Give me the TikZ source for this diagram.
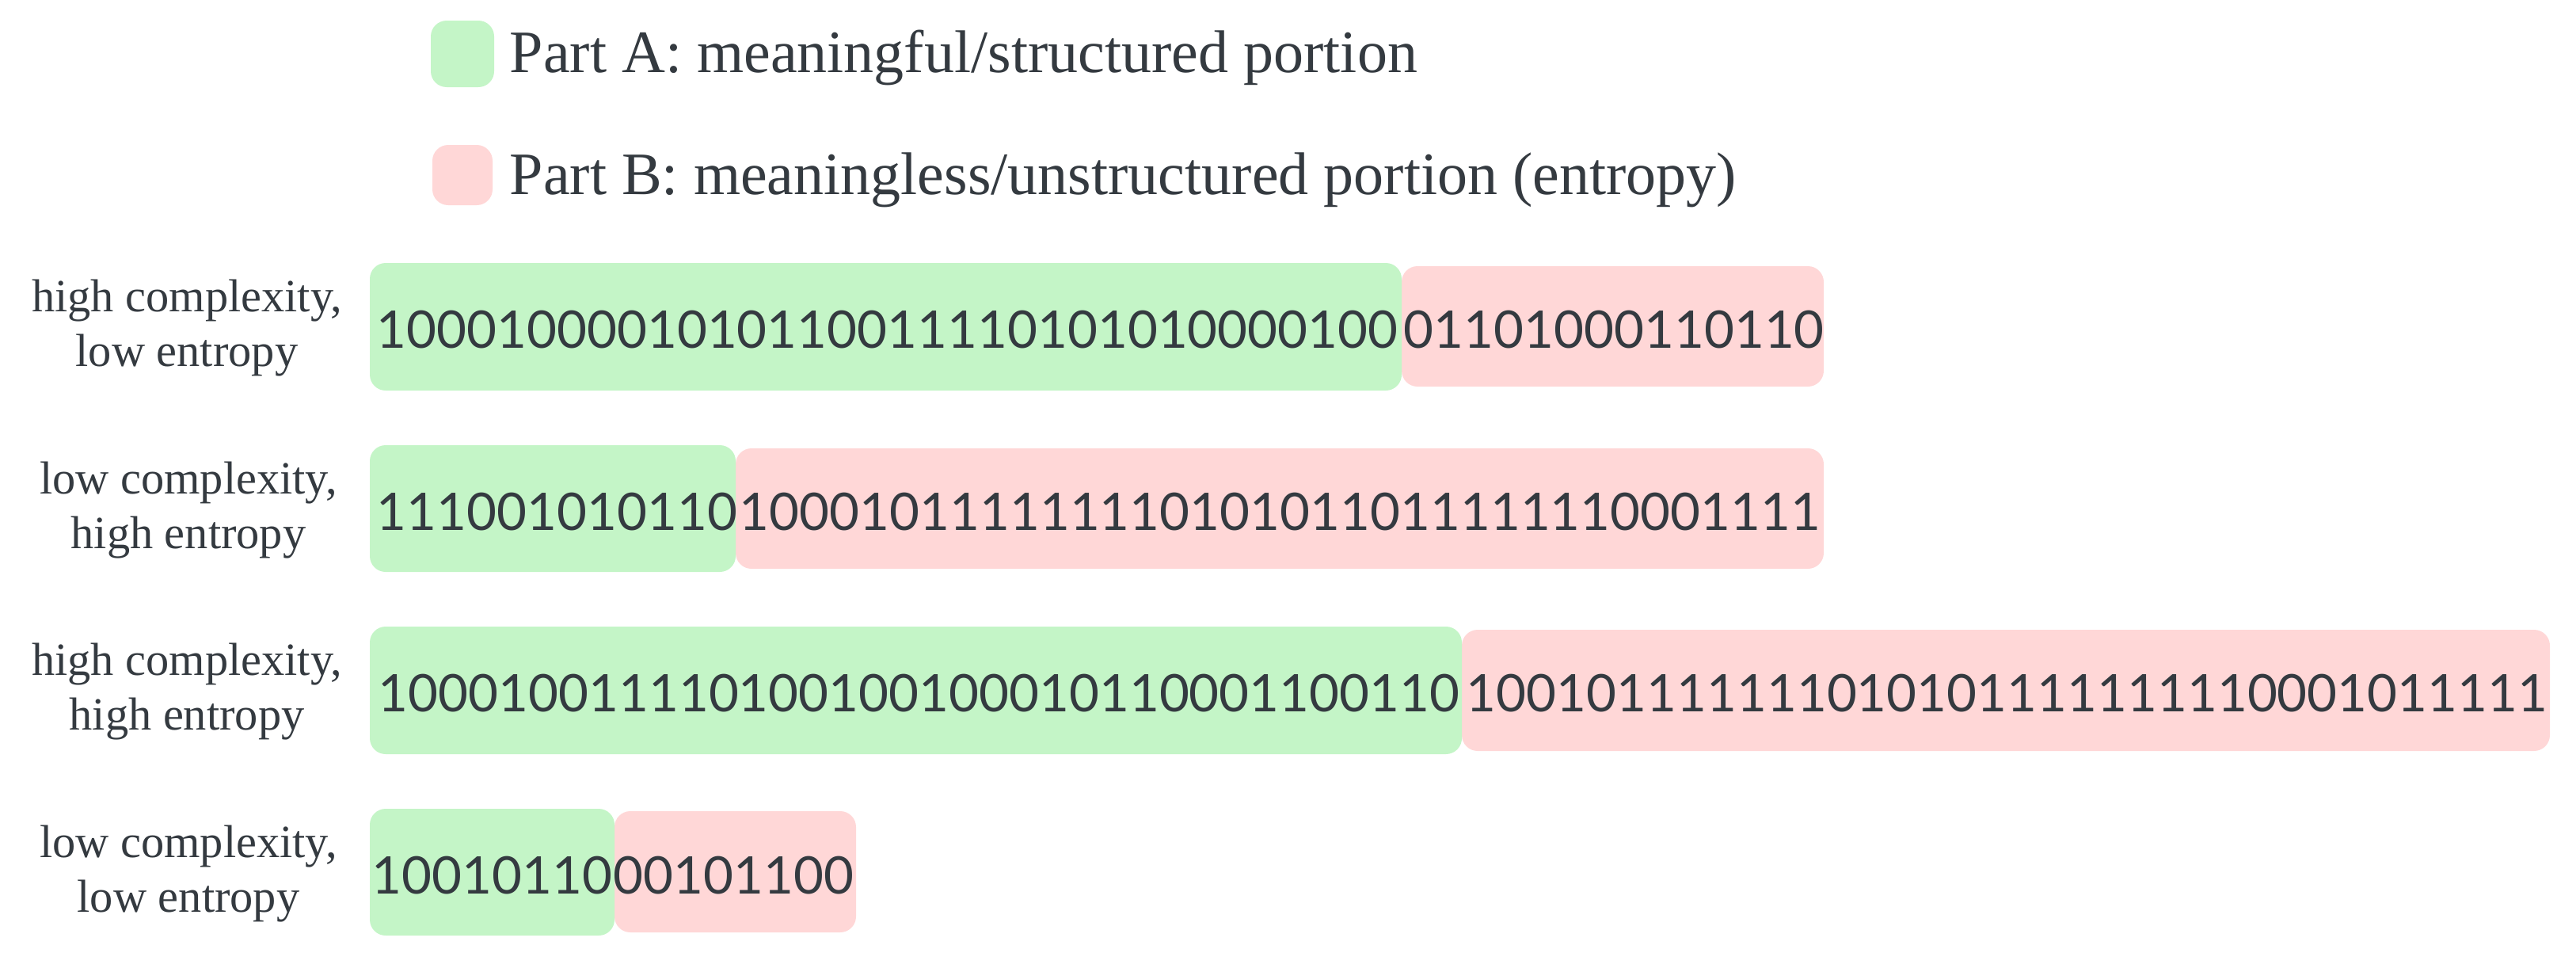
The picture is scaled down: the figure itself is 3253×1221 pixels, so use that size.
\documentclass[tikz,border=0pt]{standalone}
\usepackage{fontspec}
\setmainfont{Liberation Serif}
\newfontfamily\digitfont{Lato}
\definecolor{partA}{RGB}{196,245,199}
\definecolor{partB}{RGB}{255,215,215}
\definecolor{ink}{RGB}{52,58,64}
\begin{document}
\begin{tikzpicture}[x=0.25pt,y=-0.25pt,
  abox/.style={fill=partA, rounded corners=5pt},
  bbox/.style={fill=partB, rounded corners=5pt},
  bits/.style={font=\digitfont\fontsize{16.35pt}{19pt}\selectfont, text=ink, inner sep=0pt, anchor=west},
  rowlabel/.style={font=\fontsize{14.6pt}{17.3pt}\selectfont, text=ink, align=center, inner sep=0pt},
  legend/.style={font=\fontsize{19pt}{23pt}\selectfont, text=ink, inner sep=0pt, anchor=base west}]
\useasboundingbox (0,0) rectangle (3253,1221);
% legend
\fill[abox] (544,26) rectangle (624,110);
\node[legend] (legA) at (643,92) {Part A: meaningful/structured portion};
\fill[bbox] (546,183) rectangle (622,259);
\node[legend] (legB) at (643,245) {Part B: meaningless/unstructured portion (entropy)};
% row 1
\fill[bbox] (1770,336) rectangle (2303,488);
\fill[abox] (467,332) rectangle (1770,493);
\node[bits] (a1) at (475,416) {1000100001010110011110101010000100};
\node[bits] (b1) at (1772,416) {01101000110110};
\node[rowlabel] (l1) at (236,414) {high complexity,\\low entropy};
% row 2
\fill[bbox] (929,566) rectangle (2303,718);
\fill[abox] (467,562) rectangle (929,722);
\node[bits] (a2) at (475,646) {111001010110};
\node[bits] (b2) at (933,646) {100010111111110101011011111110001111};
\node[rowlabel] (l2) at (238,644) {low complexity,\\high entropy};
% row 3
\fill[bbox] (1846,795) rectangle (3220,948);
\fill[abox] (467,791) rectangle (1846,952);
\node[bits] (a3) at (477,875) {100010011110100100100010110001100110};
\node[bits] (b3) at (1851,875) {100101111111010101111111110001011111};
\node[rowlabel] (l3) at (236,873) {high complexity,\\high entropy};
% row 4
\fill[bbox] (776,1024) rectangle (1081,1177);
\fill[abox] (467,1021) rectangle (776,1181);
\node[bits] (a4) at (469,1105) {10010110};
\node[bits] (b4) at (a4.east) {00101100};
\node[rowlabel] (l4) at (238,1103) {low complexity,\\low entropy};
\end{tikzpicture}
\end{document}
